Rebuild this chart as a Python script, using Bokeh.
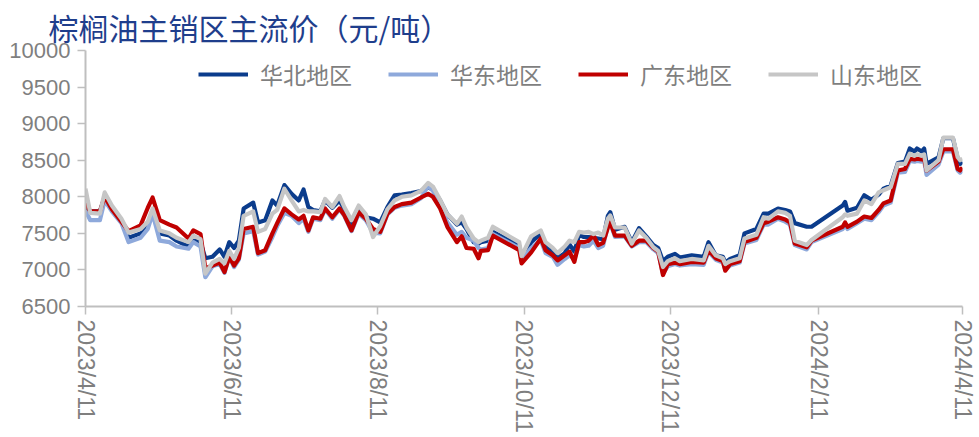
import math
import pandas as pd
from bokeh.plotting import figure
from bokeh.models import Range1d, FixedTicker, CustomJSTickFormatter, Legend, LegendItem
from bokeh.embed import file_html
from bokeh.resources import INLINE

title_text = "棕榈油主销区主流价（元/吨）"
series_names = ["华北地区", "华东地区", "广东地区", "山东地区"]
series_colors = ["#0B3C8C", "#8EA9DB", "#C00000", "#C6C6C6"]

dates = [
    "2023-04-11", "2023-04-13", "2023-04-17", "2023-04-19", "2023-04-22", "2023-04-26", "2023-04-29", "2023-05-04", "2023-05-07", "2023-05-09",
    "2023-05-12", "2023-05-16", "2023-05-19", "2023-05-24", "2023-05-26", "2023-05-29", "2023-05-31", "2023-06-03", "2023-06-06", "2023-06-08",
    "2023-06-10", "2023-06-12", "2023-06-14", "2023-06-16", "2023-06-20", "2023-06-22", "2023-06-25", "2023-06-28", "2023-06-30", "2023-07-03",
    "2023-07-06", "2023-07-09", "2023-07-11", "2023-07-13", "2023-07-15", "2023-07-18", "2023-07-20", "2023-07-23", "2023-07-26", "2023-07-28",
    "2023-07-31", "2023-08-03", "2023-08-06", "2023-08-09", "2023-08-12", "2023-08-15", "2023-08-18", "2023-08-21", "2023-08-25", "2023-08-29",
    "2023-09-01", "2023-09-03", "2023-09-06", "2023-09-09", "2023-09-13", "2023-09-15", "2023-09-17", "2023-09-20", "2023-09-22", "2023-09-23",
    "2023-09-26", "2023-09-28", "2023-10-09", "2023-10-10", "2023-10-14", "2023-10-18", "2023-10-20", "2023-10-23", "2023-10-25", "2023-10-28",
    "2023-10-30", "2023-11-01", "2023-11-03", "2023-11-05", "2023-11-07", "2023-11-09", "2023-11-11", "2023-11-13", "2023-11-15", "2023-11-16",
    "2023-11-18", "2023-11-22", "2023-11-25", "2023-11-28", "2023-12-01", "2023-12-04", "2023-12-06", "2023-12-08", "2023-12-10", "2023-12-13",
    "2023-12-15", "2023-12-20", "2023-12-25", "2023-12-27", "2023-12-30", "2024-01-02", "2024-01-03", "2024-01-05", "2024-01-09", "2024-01-11",
    "2024-01-16", "2024-01-19", "2024-01-21", "2024-01-25", "2024-01-28", "2024-01-30", "2024-02-01", "2024-02-06", "2024-02-08", "2024-02-21",
    "2024-02-22", "2024-02-23", "2024-02-27", "2024-03-01", "2024-03-04", "2024-03-07", "2024-03-09", "2024-03-12", "2024-03-15", "2024-03-18",
    "2024-03-20", "2024-03-22", "2024-03-23", "2024-03-25", "2024-03-26", "2024-03-27", "2024-04-01", "2024-04-03", "2024-04-07", "2024-04-09",
    "2024-04-10", "2024-04-11",
]

huabei = [
    7860, 7800, 7800, 8000, 7850, 7680, 7440, 7500, 7600, 7800,
    7500, 7470, 7400, 7320, 7420, 7380, 7160, 7180, 7280, 7180,
    7380, 7300, 7400, 7840, 7920, 7650, 7680, 7950, 7880, 8160,
    8040, 7950, 8100, 7860, 7820, 7800, 7950, 7850, 7950, 7830,
    7620, 7830, 7720, 7700, 7650, 7860, 8020, 8030, 8050, 8080,
    8130, 8100, 7950, 7760, 7620, 7650, 7560, 7380, 7360, 7380,
    7400, 7520, 7330, 7150, 7380, 7500, 7330, 7250, 7160, 7230,
    7350, 7250, 7480, 7450, 7450, 7440, 7430, 7420, 7740, 7790,
    7550, 7590, 7380, 7570, 7460, 7340, 7300, 7120, 7180, 7220,
    7170, 7200, 7180, 7380, 7200, 7180, 7100, 7150, 7200, 7500,
    7560, 7770, 7770, 7840, 7820, 7800, 7640, 7590, 7590, 7880,
    7930, 7810, 7850, 8020, 7960, 8030, 8110, 8150, 8460, 8480,
    8660, 8620, 8660, 8620, 8660, 8450, 8540, 8800, 8800, 8520,
    8450, 8480,
]

huadong = [
    7810, 7680, 7680, 7950, 7800, 7640, 7380, 7440, 7560, 7770,
    7400, 7380, 7320, 7290, 7380, 7320, 6900, 7050, 7080, 6960,
    7180, 7040, 7140, 7500, 7530, 7210, 7250, 7450, 7600, 7780,
    7740, 7640, 7700, 7520, 7700, 7680, 7830, 7700, 7830, 7740,
    7530, 7770, 7680, 7510, 7500, 7760, 7850, 7880, 7900, 7980,
    8150, 8080, 7880, 7650, 7480, 7520, 7440, 7400, 7300, 7280,
    7300, 7490, 7300, 7140, 7300, 7410, 7230, 7180, 7070, 7150,
    7200, 7150, 7340, 7320, 7330, 7400, 7300, 7330, 7600, 7640,
    7450, 7460, 7320, 7380, 7380, 7280, 7230, 6950, 7050, 7080,
    7060, 7080, 7070, 7250, 7140, 7100, 7000, 7060, 7100, 7360,
    7410, 7620, 7620, 7700, 7660, 7620, 7340, 7280, 7380, 7560,
    7620, 7560, 7640, 7700, 7680, 7790, 7880, 7920, 8330, 8340,
    8490, 8480, 8490, 8480, 8490, 8300, 8440, 8620, 8620, 8360,
    8330, 8360,
]

guangdong = [
    7910, 7800, 7800, 8000, 7830, 7660, 7530, 7610, 7850, 7990,
    7680, 7620, 7580, 7430, 7540, 7490, 7020, 7060, 7100, 6970,
    7180, 7060, 7160, 7560, 7590, 7230, 7270, 7500, 7640, 7840,
    7760, 7690, 7740, 7540, 7720, 7700, 7840, 7720, 7840, 7750,
    7540, 7790, 7700, 7560, 7520, 7770, 7860, 7900, 7920, 7990,
    8040, 8000, 7840, 7590, 7380, 7460, 7300, 7290, 7160, 7260,
    7270, 7470, 7270, 7090, 7240, 7430, 7270, 7200, 7130, 7200,
    7250, 7110, 7380, 7380, 7400, 7470, 7340, 7370, 7580, 7650,
    7470, 7470, 7330, 7400, 7400, 7300, 7250, 6930, 7080, 7100,
    7080, 7110, 7100, 7270, 7160, 7120, 6990, 7080, 7120, 7380,
    7440, 7640, 7660, 7720, 7690, 7650, 7360, 7310, 7400, 7590,
    7650, 7590, 7660, 7730, 7710, 7820, 7910, 7950, 8360, 8380,
    8520, 8510, 8520, 8510, 8520, 8360, 8480, 8650, 8650, 8380,
    8360, 8400,
]

shandong = [
    8110, 7780, 7770, 8060, 7880, 7700, 7510, 7560, 7660, 7840,
    7540, 7500, 7440, 7380, 7470, 7420, 6950, 7100, 7150, 7090,
    7260, 7150, 7300, 7740, 7800, 7520, 7560, 7770, 7820, 8110,
    7950, 7800, 7820, 7800, 7800, 7790, 7970, 7860, 8010, 7860,
    7680, 7880, 7760, 7450, 7600, 7830, 7950, 8000, 8020, 8080,
    8190, 8140, 7960, 7760, 7630, 7730, 7580, 7430, 7380, 7400,
    7440, 7590, 7380, 7190, 7460, 7540, 7380, 7300, 7230, 7320,
    7400, 7380, 7520, 7510, 7520, 7490, 7510, 7470, 7700, 7745,
    7580, 7580, 7360, 7540, 7440, 7310, 7260, 7040, 7120, 7160,
    7120, 7150, 7130, 7330, 7200, 7160, 7080, 7120, 7160, 7430,
    7480, 7720, 7700, 7800, 7780, 7740, 7400, 7340, 7410, 7720,
    7760, 7740, 7770, 7950, 7900, 8060, 8090, 8130, 8450, 8450,
    8590, 8560, 8580, 8560, 8580, 8360, 8500, 8810, 8810, 8540,
    8500, 8520,
]

x_tick_labels = ["2023/4/11", "2023/6/11", "2023/8/11", "2023/10/11",
                 "2023/12/11", "2024/2/11", "2024/4/11"]
y_ticks = [6500, 7000, 7500, 8000, 8500, 9000, 9500, 10000]

x = pd.to_datetime(dates)
tick_dt = pd.to_datetime(x_tick_labels, format="%Y/%m/%d")
tick_ms = [float(t.value // 10**6) for t in tick_dt]

p = figure(width=979, height=437, x_axis_type="datetime",
           output_backend="svg", toolbar_location=None,
           x_range=Range1d(tick_dt[0], tick_dt[-1]),
           y_range=Range1d(y_ticks[0], y_ticks[-1]),
           min_border_left=85, min_border_right=17,
           min_border_top=50, min_border_bottom=131)

p.title.text = title_text
p.title.text_font = "Noto Sans CJK SC"
p.title.text_font_size = "30px"
p.title.text_font_style = "normal"
p.title.text_color = "#1F3E8C"
p.title.align = "left"
p.title.offset = -37
p.title.standoff = 4

p.outline_line_color = None
p.xgrid.visible = False
p.ygrid.visible = False
p.background_fill_color = "white"
p.border_fill_color = "white"

axis_color = "#BFBFBF"
label_color = "#7F7F7F"

p.yaxis.ticker = FixedTicker(ticks=y_ticks)
p.yaxis.axis_line_color = axis_color
p.yaxis.axis_line_width = 2
p.yaxis.major_tick_line_color = axis_color
p.yaxis.major_tick_line_width = 1.5
p.yaxis.major_tick_out = 8
p.yaxis.major_tick_in = 0
p.yaxis.minor_tick_line_color = None
p.yaxis.major_label_text_font = "Liberation Sans"
p.yaxis.major_label_text_font_size = "22px"
p.yaxis.major_label_text_color = label_color
p.yaxis.major_label_standoff = 7

p.xaxis.ticker = FixedTicker(ticks=tick_ms)
p.xaxis.formatter = CustomJSTickFormatter(
    args=dict(lbls=x_tick_labels, tvals=tick_ms),
    code="""
    let best = 0, bd = Infinity;
    for (let i = 0; i < tvals.length; i++) {
        const d = Math.abs(tvals[i] - tick);
        if (d < bd) { bd = d; best = i; }
    }
    return lbls[best];
    """)
p.xaxis.axis_line_color = axis_color
p.xaxis.axis_line_width = 2
p.xaxis.major_tick_line_color = axis_color
p.xaxis.major_tick_line_width = 1.5
p.xaxis.major_tick_out = 8
p.xaxis.major_tick_in = 0
p.xaxis.minor_tick_line_color = None
p.xaxis.major_label_orientation = -math.pi / 2
p.xaxis.major_label_text_font = "Liberation Sans"
p.xaxis.major_label_text_font_size = "23px"
p.xaxis.major_label_text_color = label_color
p.xaxis.major_label_standoff = 5

items = []
for name, vals, col in zip(series_names, [huabei, huadong, guangdong, shandong], series_colors):
    r = p.line(x, vals, line_color=col, line_width=4.2, line_join="round")
    items.append(LegendItem(label=name, renderers=[r]))

legend = Legend(items=items, orientation="horizontal", location=(113, 215))
legend.label_text_font = "Noto Sans CJK SC"
legend.label_text_font_size = "23px"
legend.label_text_color = label_color
legend.glyph_width = 50
legend.glyph_height = 24
legend.label_height = 24
legend.label_standoff = 12
legend.spacing = 36
legend.padding = 0
legend.margin = 0
legend.border_line_color = None
legend.background_fill_alpha = 0
p.add_layout(legend, "center")

open("out.html", "w").write(file_html(p, INLINE))
